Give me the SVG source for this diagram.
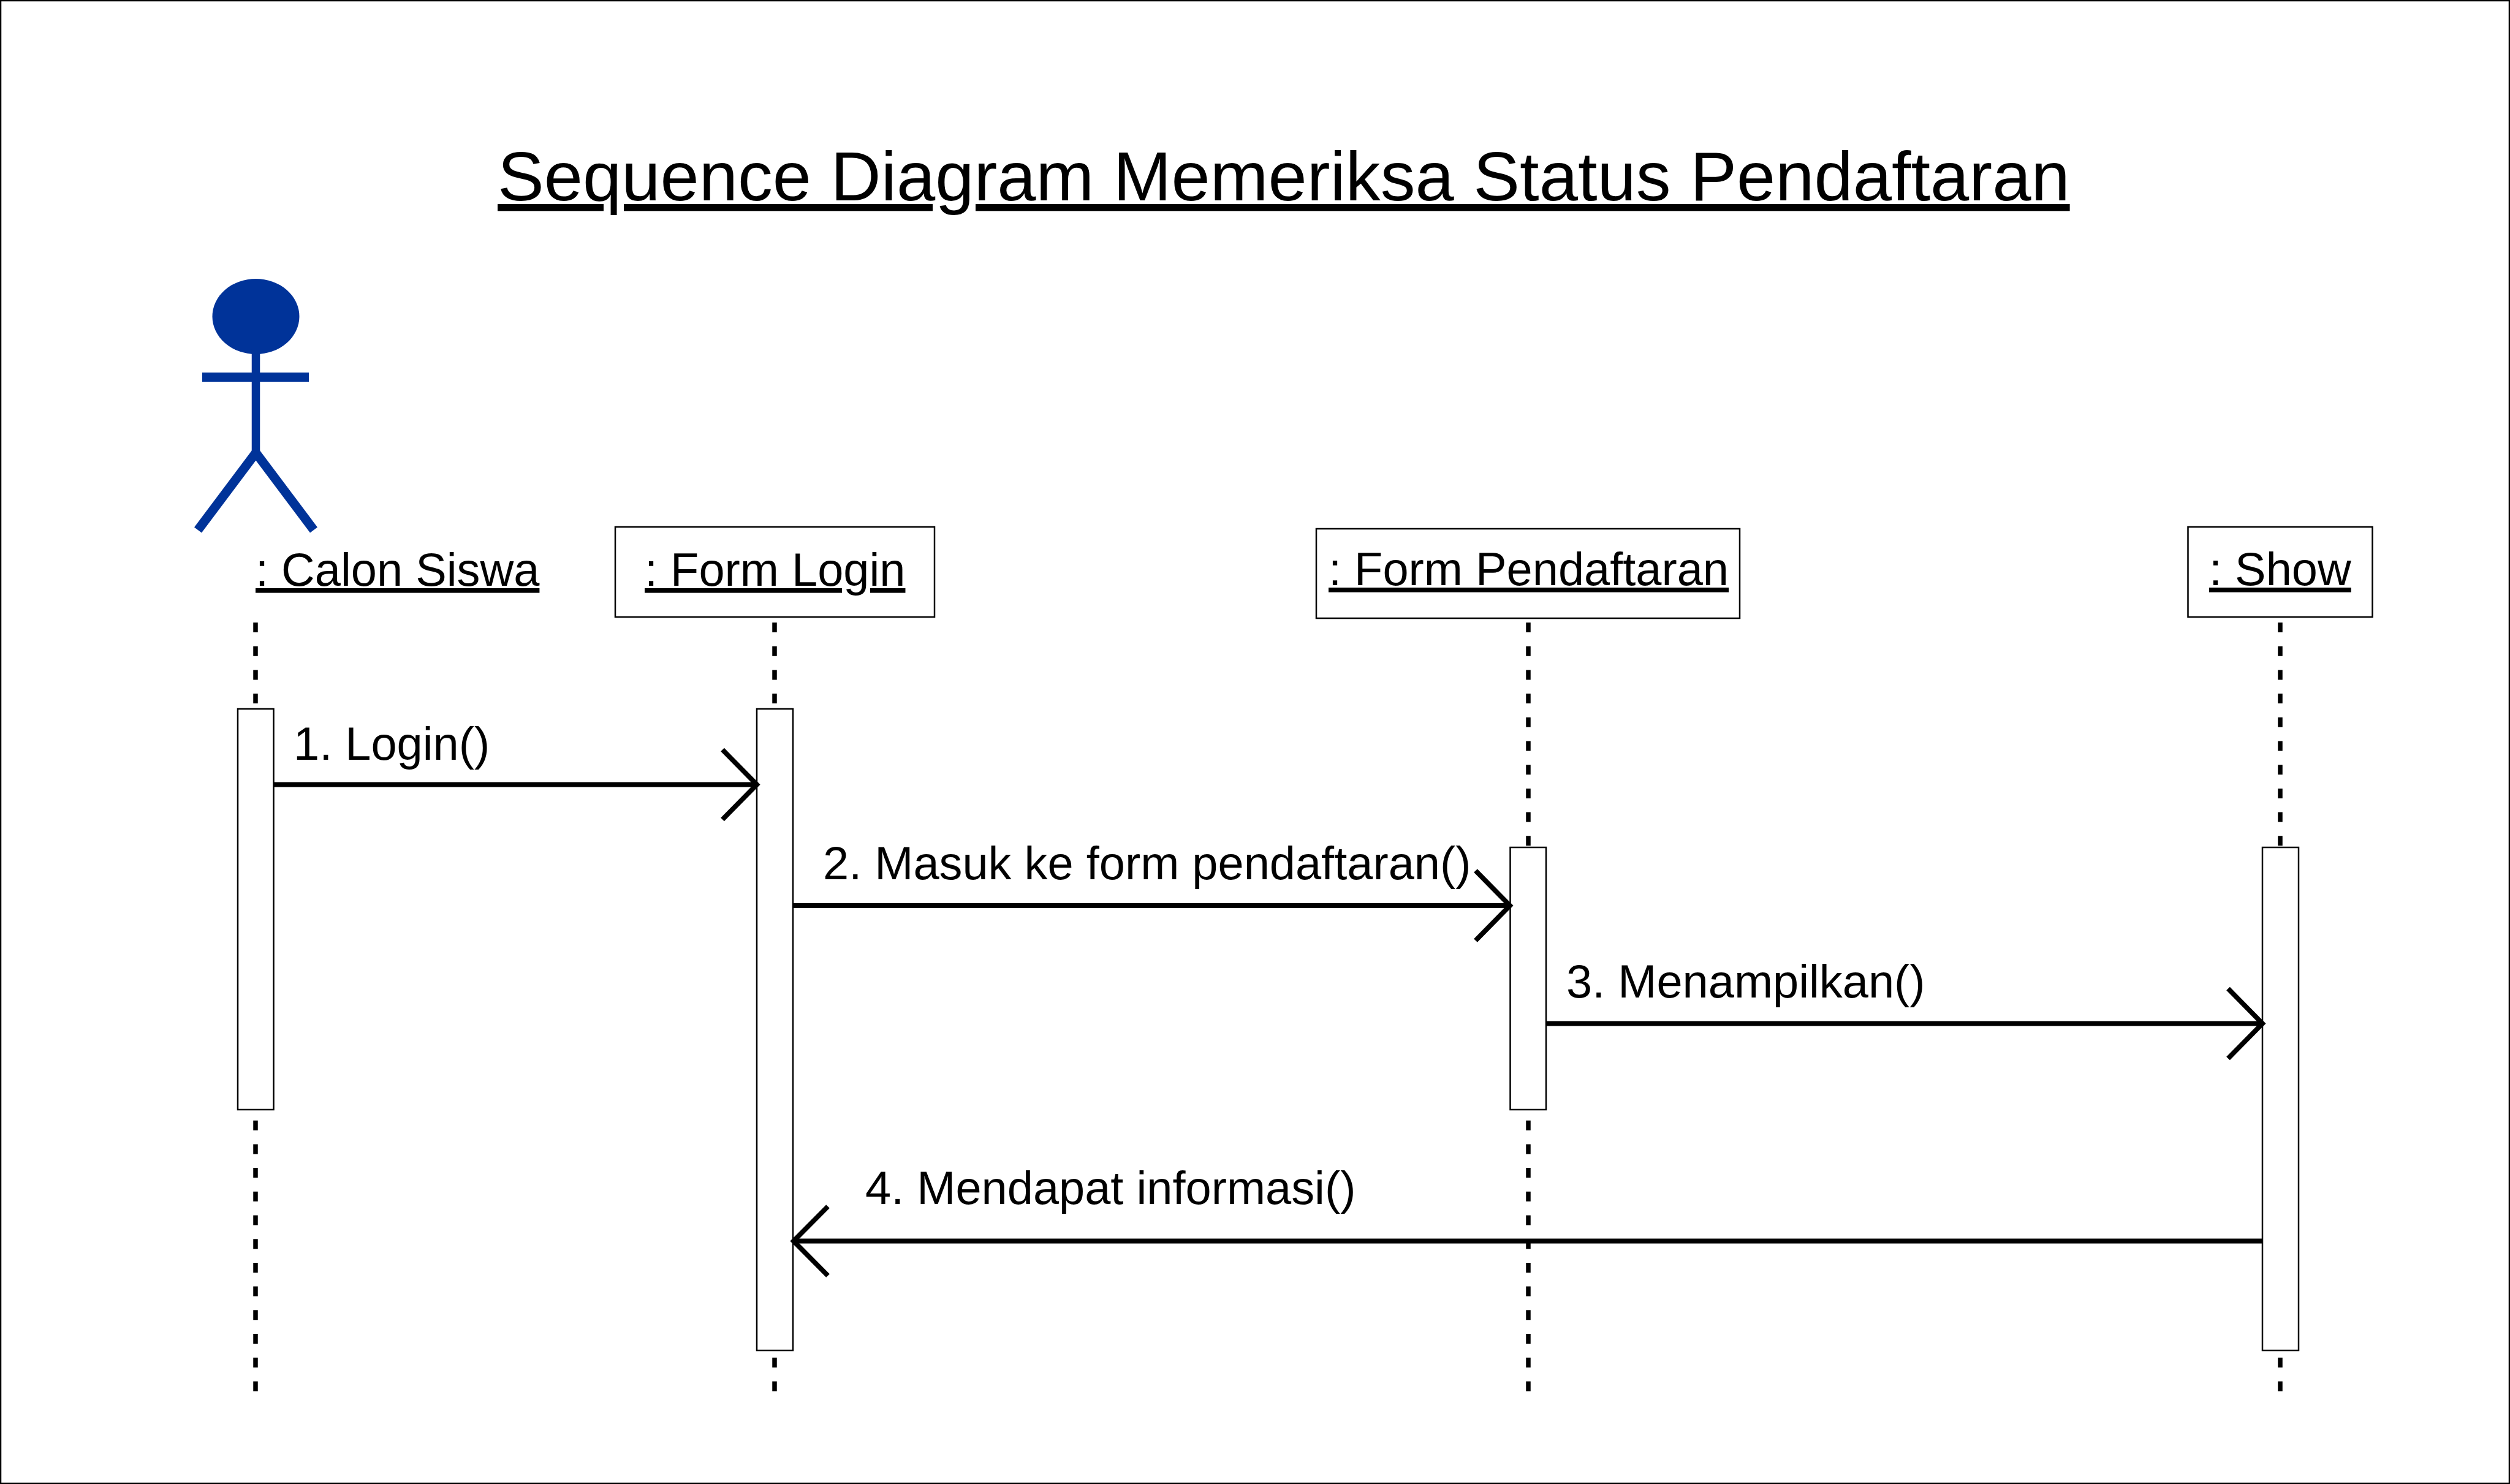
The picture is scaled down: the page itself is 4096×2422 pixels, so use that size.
<svg xmlns="http://www.w3.org/2000/svg" width="4096" height="2422" viewBox="0 0 4096 2422">
<style>
text{font-family:"Liberation Sans",Arial,sans-serif;font-size:75.8px;fill:#000}
.u{text-decoration:underline;text-decoration-thickness:4px;text-decoration-skip-ink:none}
.title{font-size:113.7px;text-decoration-thickness:5px}
.box{fill:#fff;stroke:#000;stroke-width:2.5}
.life{stroke:#000;stroke-width:7.5;stroke-dasharray:16 22.7;fill:none}
.msg{stroke:#000;stroke-width:8;fill:none}
.actor{stroke:#003399;fill:none}
</style>
<defs>
<path id="hr" class="msg" d="M-56 -57L0 0L-56 57"/>
</defs>
<rect x="1" y="1" width="4094" height="2420" fill="#fff" stroke="#000" stroke-width="2.5"/>
<text id="title" class="u title" x="812" y="327">Sequence Diagram Memeriksa Status Pendaftaran</text>
<g id="lifelines">
<line class="life" x1="417" y1="1016" x2="417" y2="2276"/>
<line class="life" x1="1264" y1="1016" x2="1264" y2="2276"/>
<line class="life" x1="2494" y1="1016" x2="2494" y2="2276"/>
<line class="life" x1="3721" y1="1016" x2="3721" y2="2276"/>
</g>
<g id="actor-calon-siswa">
<ellipse cx="417.5" cy="516.5" rx="71" ry="61.5" fill="#003399"/>
<path class="actor" stroke-width="13.5" d="M417.5 570V739"/>
<path class="actor" stroke-width="15" d="M330 615.5H504"/>
<path class="actor" stroke-width="15" d="M323 865L417.5 739L512 865"/>
<text class="u" x="417" y="956">: Calon Siswa</text>
</g>
<g id="form-login">
<rect class="box" x="1004" y="860" width="521" height="147"/>
<text class="u" x="1052" y="956">: Form Login</text>
</g>
<g id="form-pendaftaran">
<rect class="box" x="2148" y="863" width="691" height="146"/>
<text class="u" x="2168" y="955">: Form Pendaftaran</text>
</g>
<g id="show">
<rect class="box" x="3570.5" y="860" width="301" height="147"/>
<text class="u" x="3605" y="955">: Show</text>
</g>
<g id="activations">
<rect class="box" x="388" y="1157" width="58.5" height="654"/>
<rect class="box" x="1235" y="1157" width="59" height="1047"/>
<rect class="box" x="2464.5" y="1383" width="58.5" height="428"/>
<rect class="box" x="3692" y="1383" width="59" height="821"/>
</g>
<g id="connectors">
<line class="msg" x1="446" y1="1280.5" x2="1235" y2="1280.5"/>
<use href="#hr" x="1235" y="1280.5"/>
<line class="msg" x1="1294" y1="1478" x2="2464" y2="1478"/>
<use href="#hr" x="2464" y="1478"/>
<line class="msg" x1="2523" y1="1670.5" x2="3692" y2="1670.5"/>
<use href="#hr" x="3692" y="1670.5"/>
<line class="msg" x1="3692" y1="2025.5" x2="1295" y2="2025.5"/>
<path class="msg" d="M1351 1969L1295 2025.5L1351 2082"/>
</g>
<g id="labels">
<text x="479" y="1240">1. Login()</text>
<text x="1343" y="1435">2. Masuk ke form pendaftaran()</text>
<text x="2556" y="1628">3. Menampilkan()</text>
<text x="1412" y="1965">4. Mendapat informasi()</text>
</g>
</svg>
